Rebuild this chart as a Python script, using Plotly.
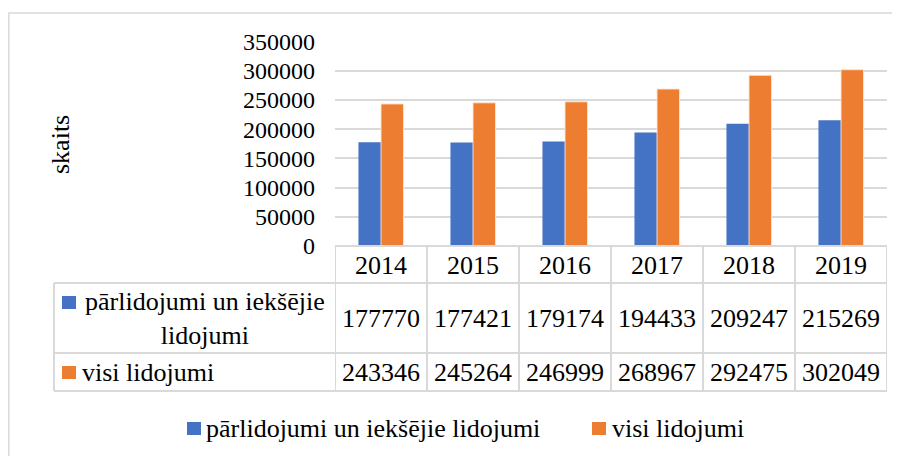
import plotly.graph_objects as go

years = ['2014', '2015', '2016', '2017', '2018', '2019']
name1 = 'pārlidojumi un iekšējie lidojumi'
name1_table = 'pārlidojumi un iekšējie<br>lidojumi'
name2 = 'visi lidojumi'
vals1 = [177770, 177421, 179174, 194433, 209247, 215269]
vals2 = [243346, 245264, 246999, 268967, 292475, 302049]
y_ticks = [0, 50000, 100000, 150000, 200000, 250000, 300000, 350000]
y_title = 'skaits'

# the page adds an 8px body margin, so the figure is 892x448 and page coords are offset by 8
OFF = 8
W, H = 900 - OFF, 456 - OFF
BLUE = '#4472C4'
ORANGE = '#ED7D31'
GRID = '#D9D9D9'
FONT = 'Times New Roman'


def py(p):
    return 1 - (p - OFF) / H


def px(p):
    return (p - OFF) / W


fig = go.Figure()
fig.add_trace(go.Bar(x=years, y=vals1, name=name1, marker=dict(color=BLUE, line=dict(width=0))))
fig.add_trace(go.Bar(x=years, y=vals2, name=name2,
                     marker=dict(color=ORANGE, line=dict(width=1, color='rgba(255,230,210,0.9)'))))

plot_top, plot_bot = 41.7, 246
fig.update_layout(
    width=W, height=H,
    margin=dict(l=0, r=0, t=0, b=0, autoexpand=False),
    paper_bgcolor='white', plot_bgcolor='white',
    font=dict(family=FONT, color='black', size=26),
    bargap=0.51, bargroupgap=0,
    showlegend=False,
    xaxis=dict(domain=[px(335), px(887)], range=[-0.5, 5.5], type='category',
               showticklabels=False, showgrid=False, zeroline=False, showline=False, fixedrange=True),
    yaxis=dict(domain=[py(plot_bot), py(plot_top)], range=[0, 350000], tickvals=y_ticks,
               ticktext=[str(v) for v in y_ticks], showgrid=True, gridcolor=GRID, gridwidth=1.5,
               zeroline=False, showline=False, tickfont=dict(size=24, family=FONT, color='black'),
               ticks='', ticklabelstandoff=19, fixedrange=True),
)

shapes = []
# outer border
shapes.append(dict(type='rect', xref='paper', yref='paper', x0=px(8.8), x1=px(912), y0=py(13), y1=py(470),
                   line=dict(color=GRID, width=1.5), fillcolor='rgba(0,0,0,0)', layer='below'))
# table
row_top, row_h, row_1, row_2 = 246, 283, 353, 391
tl = dict(color=GRID, width=2)
shapes.append(dict(type='line', xref='x', yref='paper', x0=-0.5, x1=5.5, y0=py(row_top), y1=py(row_top), line=tl))
for yy in (row_h, row_1, row_2):
    shapes.append(dict(type='line', xref='paper', yref='paper', x0=px(54), x1=px(887), y0=py(yy), y1=py(yy), line=tl))
shapes.append(dict(type='line', xref='paper', yref='paper', x0=px(54), x1=px(54), y0=py(row_h), y1=py(row_2), line=tl))
for i in range(len(years) + 1):
    shapes.append(dict(type='line', xref='x', yref='paper', x0=i - 0.5, x1=i - 0.5, y0=py(row_top), y1=py(row_2), line=tl))
# series keys in table
shapes.append(dict(type='rect', xref='paper', yref='paper', x0=px(62), x1=px(76), y0=py(296), y1=py(309),
                   fillcolor=BLUE, line=dict(width=0)))
shapes.append(dict(type='rect', xref='paper', yref='paper', x0=px(62), x1=px(76), y0=py(366), y1=py(379),
                   fillcolor=ORANGE, line=dict(width=0)))
# legend keys
shapes.append(dict(type='rect', xref='paper', yref='paper', x0=px(187), x1=px(201), y0=py(422), y1=py(435),
                   fillcolor=BLUE, line=dict(width=0)))
shapes.append(dict(type='rect', xref='paper', yref='paper', x0=px(592), x1=px(606), y0=py(422), y1=py(435),
                   fillcolor=ORANGE, line=dict(width=0)))
fig.update_layout(shapes=shapes)

f26 = dict(size=26, family=FONT, color='black')
ann = []
for i, yr in enumerate(years):
    ann.append(dict(x=i, xref='x', y=py(265), yref='paper', text=yr, showarrow=False,
                    xanchor='center', yanchor='middle', font=f26))
    ann.append(dict(x=i, xref='x', y=py(318), yref='paper', text=str(vals1[i]), showarrow=False,
                    xanchor='center', yanchor='middle', font=f26))
    ann.append(dict(x=i, xref='x', y=py(372), yref='paper', text=str(vals2[i]), showarrow=False,
                    xanchor='center', yanchor='middle', font=f26))
ann.append(dict(x=px(205), xref='paper', y=py(318), yref='paper', text=name1_table, showarrow=False,
                xanchor='center', yanchor='middle', align='center', font=f26))
ann.append(dict(x=px(80), xref='paper', y=py(372), yref='paper', text=name2, showarrow=False,
                xanchor='left', yanchor='middle', font=f26))
ann.append(dict(x=px(204), xref='paper', y=py(428), yref='paper', text=name1, showarrow=False,
                xanchor='left', yanchor='middle', font=f26))
ann.append(dict(x=px(610), xref='paper', y=py(428), yref='paper', text=name2, showarrow=False,
                xanchor='left', yanchor='middle', font=f26))
ann.append(dict(x=px(60), xref='paper', y=py(145), yref='paper', text=y_title, showarrow=False,
                textangle=-90, xanchor='center', yanchor='middle', font=f26))
fig.update_layout(annotations=ann)

fig.write_html('out.html')
